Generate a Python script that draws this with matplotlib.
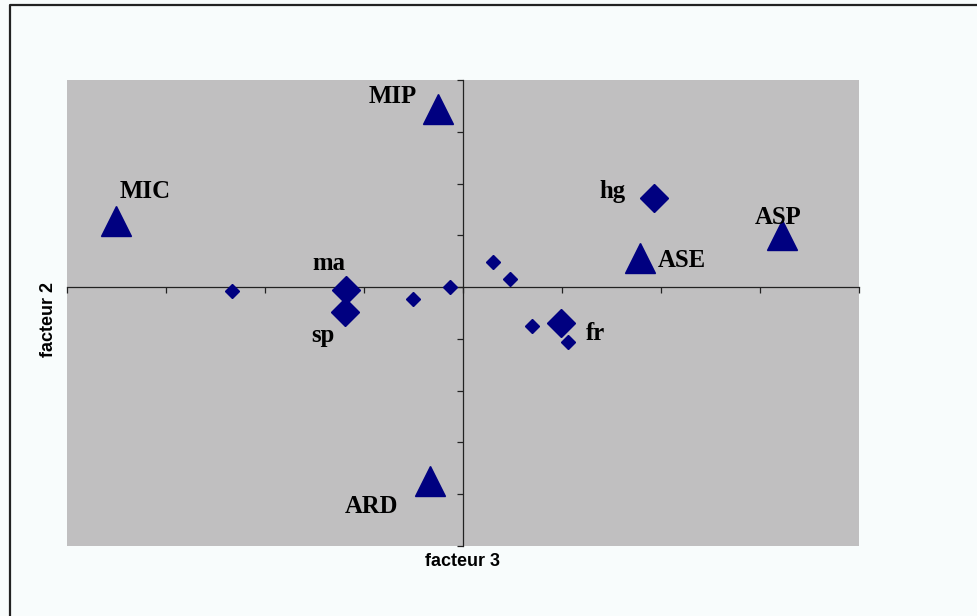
import matplotlib
matplotlib.use("Agg")
import matplotlib.pyplot as plt
from matplotlib.lines import Line2D

# ---- data (factor scores, in axis tick units) ----
tri_names = ["MIC", "MIP", "ASE", "ASP", "ARD"]
tri_x = [-3.50, -0.25, 1.79, 3.23, -0.33]
tri_y = [1.27, 3.44, 0.56, 1.00, -3.75]

big_names = ["ma", "sp", "hg", "fr"]
big_x = [-1.18, -1.19, 1.93, 0.99]
big_y = [-0.06, -0.49, 1.72, -0.69]

small_x = [-2.33, -0.50, -0.13, 0.30, 0.48, 0.70, 1.06]
small_y = [-0.07, -0.23, 0.00, 0.49, 0.155, -0.75, -1.06]

x_ticks = [-4, -3, -2, -1, 0, 1, 2, 3, 4]
y_ticks = [-5, -4, -3, -2, -1, 0, 1, 2, 3, 4]

x_title = "facteur 3"
y_title = "facteur 2"

# label offsets in points (style/layout, not data)
label_offsets = {
    "MIC": (20.5, 16.8), "MIP": (-32.6, 4.1), "ASE": (29.9, -6.5),
    "ASP": (-3.4, 8.4), "ARD": (-42.0, -22.8),
    "ma": (-12.7, 14.4), "sp": (-15.8, -21.6), "hg": (-29.7, 0.0),
    "fr": (25.1, -12.2),
}

W, H = 977, 616
fig = plt.figure(figsize=(W / 100, H / 100), dpi=100, facecolor="#F8FCFC")
ax = fig.add_axes([67 / W, 1 - 546 / H, (858.7 - 67) / W, (546 - 80) / H])
ax.set_facecolor("#C0BFC0")

navy = "#000080"
ax.plot(small_x, small_y, linestyle="none", marker="D", ms=6.9,
        color=navy, mec=navy, zorder=3, clip_on=False)
ax.plot(big_x, big_y, linestyle="none", marker="D", ms=14.0,
        color=navy, mec=navy, zorder=3, clip_on=False)
ax.plot(tri_x, tri_y, linestyle="none", marker="^", ms=21.5,
        color=navy, mec=navy, zorder=3, clip_on=False)

for names, xs, ys in ((tri_names, tri_x, tri_y), (big_names, big_x, big_y)):
    for n, x, y in zip(names, xs, ys):
        ax.annotate(n, (x, y), xytext=label_offsets[n], textcoords="offset points",
                    ha="center", va="baseline", fontsize=17.8, fontweight="bold",
                    family="Liberation Serif", color="black", zorder=4)

ax.set_xlim(x_ticks[0], x_ticks[-1])
ax.set_ylim(y_ticks[0], y_ticks[-1])
ax.set_xticks(x_ticks)
ax.set_yticks(y_ticks)
ax.set_xticklabels([])
ax.set_yticklabels([])

for s in ("top", "right"):
    ax.spines[s].set_visible(False)
ax.spines["left"].set_position(("data", 0))
ax.spines["bottom"].set_position(("data", 0))
for s in ("left", "bottom"):
    ax.spines[s].set_color("#222222")
    ax.spines[s].set_linewidth(0.9)
    ax.spines[s].set_zorder(2)
ax.tick_params(direction="out", length=4, width=0.9, color="#222222")

fig.text(462.85 / W, 1 - 561 / H, x_title, ha="center", va="center",
         fontsize=13, fontweight="bold", family="Liberation Sans")
fig.text(48.3 / W, 1 - 319 / H, y_title, ha="center", va="center", rotation=90,
         fontsize=13, fontweight="bold", family="Liberation Sans")

# chart-area border (top and left visible)
fig.add_artist(Line2D([10 / W, 10 / W, 1.0], [0.0, 1 - 5 / H, 1 - 5 / H],
                      transform=fig.transFigure, color="#222222", lw=1.6))

fig.savefig("out.png", dpi=100, facecolor=fig.get_facecolor())
